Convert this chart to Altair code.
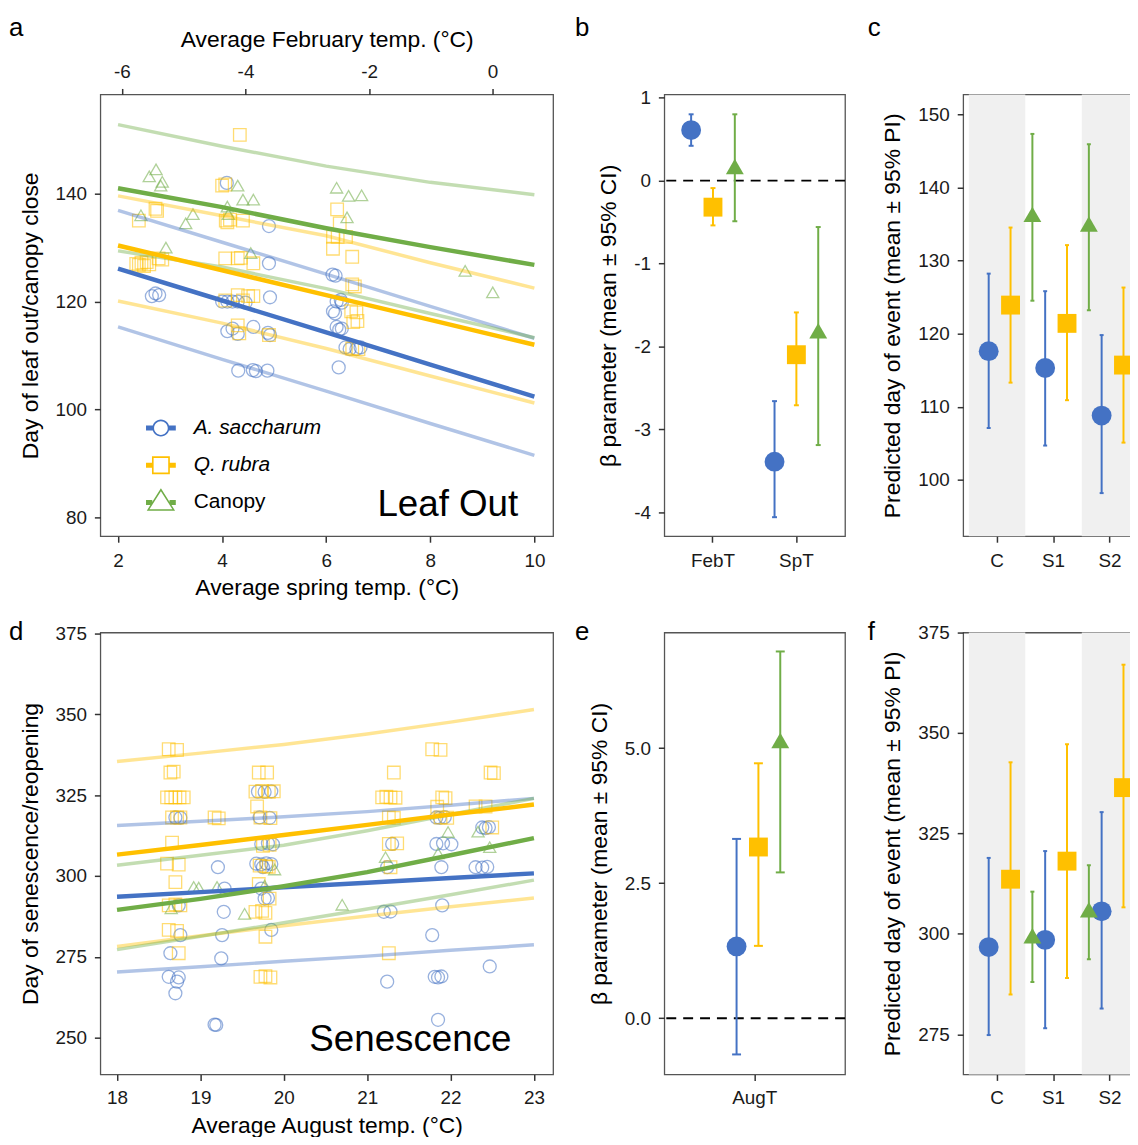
import altair as alt
import pandas as pd

FONT = "Liberation Sans"
SPECIES = ["A. saccharum", "Q. rubra", "Canopy"]
COLORS = ["#4472C4", "#FFC000", "#70AD47"]
POINT_SHAPES = ["circle", "square", "triangle-up"]
PANEL_TAGS = ["a", "b", "c", "d", "e", "f"]

# ---------------- panel a : leaf out vs spring temperature ----------------
A_LINE_X = [2, 4, 6, 8, 10]
A_SACC_MEAN = [126.1, 120.2, 114.3, 108.3, 102.4]
A_SACC_HI = [136.9, 131.0, 125.1, 119.1, 113.2]
A_SACC_LO = [115.3, 109.3, 103.4, 97.4, 91.5]
A_RUBRA_MEAN = [130.4, 125.8, 121.2, 116.6, 112.0]
A_RUBRA_HI = [139.6, 135.9, 132.2, 127.2, 122.5]
A_RUBRA_LO = [120.1, 116.0, 111.3, 106.2, 101.2]
A_CANOPY_MEAN = [141.0, 137.5, 133.6, 130.1, 126.8]
A_CANOPY_HI = [152.8, 148.8, 145.1, 142.1, 139.8]
A_CANOPY_LO = [129.4, 126.4, 122.4, 117.8, 113.3]

A_SACC_PX = [2.65, 2.72, 2.79, 4.09, 4.90, 4.90, 4.92, 4.00, 4.10, 4.20, 4.30, 4.45,
             4.10, 4.20, 4.30, 4.60, 4.88, 4.92, 4.31, 4.59, 4.65, 4.87, 6.12, 6.18,
             6.20, 6.28, 6.30, 6.13, 6.17, 6.20, 6.25, 6.30, 6.37, 6.45, 6.58, 6.66, 6.24]
A_SACC_PY = [121.0, 121.5, 121.2, 142.0, 134.0, 127.1, 120.8, 120.0, 120.0, 120.0, 120.0, 119.8,
             114.5, 115.0, 114.0, 115.3, 114.2, 113.8, 107.2, 107.3, 107.1, 107.2, 125.0, 124.8,
             120.0, 120.3, 119.8, 118.2, 117.8, 115.3, 114.8, 115.0, 111.5, 111.2, 111.2, 111.5, 107.8]
A_RUBRA_PX = [4.34, 4.06, 4.00, 2.72, 2.75, 2.40, 4.07, 4.15, 4.10, 4.40, 6.21, 6.26, 6.13, 6.22,
              6.38, 6.13, 6.50, 2.35, 2.40, 2.45, 2.50, 2.55, 2.60, 2.78, 2.85, 4.06, 4.30, 4.36,
              4.60, 6.50, 6.55, 6.48, 6.58, 6.52, 6.60, 4.06, 4.30, 4.40, 4.50, 4.60, 4.30, 4.33,
              4.90, 6.50, 6.62]
A_RUBRA_PY = [150.9, 141.7, 141.5, 137.2, 136.8, 135.0, 135.0, 135.2, 134.7, 135.0, 137.1, 134.5,
              132.0, 132.0, 132.0, 129.8, 128.3, 127.0, 126.8, 127.2, 126.6, 127.3, 126.9, 128.0,
              127.8, 128.0, 128.0, 128.1, 127.1, 123.2, 122.8, 118.2, 118.0, 116.2, 116.4, 120.2,
              121.2, 120.2, 121.0, 121.0, 115.6, 114.1, 113.8, 111.3, 111.2]
A_CANOPY_PX = [2.60, 2.73, 2.85, 2.82, 2.44, 3.44, 3.30, 2.92, 4.30, 4.10, 4.40, 4.60, 4.12,
               4.55, 6.20, 6.43, 6.68, 6.40, 8.67, 9.20]
A_CANOPY_PY = [143.2, 144.5, 142.2, 141.5, 136.0, 136.2, 134.5, 130.0, 141.5, 137.6, 138.9,
               138.9, 136.2, 129.0, 141.1, 139.6, 139.7, 135.6, 125.7, 121.7]

A_X_TICKS = [2, 4, 6, 8, 10]
A_Y_TICKS = [80, 100, 120, 140]
FEB_TICKS = [-6, -4, -2, 0]
A_LABEL = ["Leaf Out"]
A_LABEL_X = [9.69]
A_LABEL_Y = [80.3]

# ---------------- panel d : senescence vs August temperature ----------------
D_LINE_X = [18, 19, 20, 21, 22, 23]
D_SACC_MEAN = [293.6, 295.0, 296.5, 297.9, 299.4, 300.8]
D_SACC_HI = [315.6, 316.9, 318.3, 319.9, 321.9, 324.0]
D_SACC_LO = [270.3, 271.9, 273.6, 275.2, 277.0, 278.7]
D_RUBRA_MEAN = [306.6, 309.6, 312.7, 315.8, 319.0, 322.1]
D_RUBRA_HI = [335.4, 338.0, 340.7, 343.9, 347.6, 351.5]
D_RUBRA_LO = [278.2, 281.5, 284.6, 287.6, 290.5, 293.2]
D_CANOPY_MEAN = [289.5, 292.9, 296.8, 301.2, 306.4, 311.7]
D_CANOPY_HI = [303.3, 306.4, 309.5, 314.0, 319.0, 324.0]
D_CANOPY_LO = [277.2, 281.3, 285.5, 289.8, 294.2, 298.7]

D_RUBRA_PX = [18.62, 18.72, 18.64, 18.68, 18.60, 18.65, 18.70, 18.75, 18.80, 18.66, 18.72, 18.76,
              18.66, 18.60, 18.74, 18.70, 18.62, 18.70, 18.76, 18.62, 18.72, 18.74,
              19.17, 19.22,
              19.70, 19.80, 19.66, 19.74, 19.82, 19.88, 19.68, 19.72, 19.84, 19.75, 19.83, 19.71,
              19.79, 19.82, 19.70, 19.83, 19.66, 19.74, 19.78, 19.78, 19.72, 19.78, 19.84,
              21.32, 21.18, 21.23, 21.28, 21.34, 21.26, 21.32, 21.26, 21.36, 21.28, 21.26,
              21.78, 21.88, 21.84, 21.90, 21.94, 21.88, 21.96,
              22.48, 22.52, 22.30, 22.42, 22.50]
D_RUBRA_PY = [339.2, 339.0, 332.0, 332.3, 324.3, 324.3, 324.3, 324.3, 324.3, 318.1, 318.1, 318.1,
              310.3, 303.8, 303.5, 298.1, 290.9, 291.2, 290.9, 283.3, 283.0, 276.1,
              318.1, 317.8,
              332.0, 332.0, 326.1, 326.3, 326.0, 326.2, 321.5, 318.1, 317.9, 309.3, 309.6, 303.2,
              303.0, 302.8, 297.5, 293.0, 288.9, 289.2, 288.6, 281.2, 268.8, 269.0, 268.6,
              332.0, 324.3, 324.5, 324.3, 324.2, 318.1, 318.0, 309.9, 310.1, 302.7, 276.1,
              339.2, 339.0, 321.4, 324.3, 324.1, 318.1, 318.0,
              332.0, 331.8, 321.5, 321.5, 315.0]
D_SACC_PX = [18.70, 18.76, 18.74, 18.76, 18.64, 18.62, 18.74, 18.72, 18.70,
             19.21, 19.29, 19.28, 19.26, 19.25, 19.17, 19.19,
             19.69, 19.77, 19.85, 19.71, 19.83, 19.73, 19.81, 19.87, 19.67, 19.73, 19.79, 19.85,
             19.75, 19.73, 19.77, 19.81, 19.85,
             21.30, 21.24, 21.20, 21.28, 21.24,
             21.83, 21.87, 21.93, 21.83, 21.91, 22.01, 21.89, 21.90, 21.78, 21.81, 21.85, 21.89, 21.85,
             22.38, 22.42, 22.46, 22.30, 22.38, 22.44, 22.47]
D_SACC_PY = [318.1, 318.0, 290.9, 281.7, 276.1, 268.8, 268.6, 267.3, 263.7,
             302.7, 296.1, 288.9, 281.7, 274.5, 254.0, 253.9,
             326.1, 326.0, 326.2, 318.1, 318.0, 309.9, 310.1, 309.8, 303.8, 303.6, 303.9, 303.7,
             302.7, 296.1, 293.0, 293.2, 283.3,
             309.9, 302.7, 288.9, 289.0, 267.3,
             318.1, 318.0, 318.2, 309.9, 310.1, 309.8, 302.7, 290.9, 281.7, 268.8, 268.6, 268.9, 255.5,
             315.0, 314.8, 315.1, 302.7, 302.6, 302.8, 272.0]
D_CANOPY_PX = [18.65, 18.92, 18.98, 19.20, 19.53, 19.77, 19.89, 20.70, 21.22, 21.97, 21.85, 22.33, 22.47]
D_CANOPY_PY = [290.0, 296.6, 296.4, 296.6, 288.3, 297.0, 302.0, 291.1, 305.8, 313.6, 307.0, 313.7, 308.9]

D_X_TICKS = [18, 19, 20, 21, 22, 23]
D_Y_TICKS = [250, 275, 300, 325, 350, 375]
D_LABEL = ["Senescence"]
D_LABEL_X = [22.73]
D_LABEL_Y = [245.8]

# ---------------- panel b : beta parameters (leaf out) ----------------
B_PARAMS = ["FebT", "SpT"]
B_SACC_MEAN = [0.61, -3.39]
B_SACC_LO = [0.42, -4.06]
B_SACC_HI = [0.80, -2.66]
B_RUBRA_MEAN = [-0.32, -2.10]
B_RUBRA_LO = [-0.54, -2.71]
B_RUBRA_HI = [-0.09, -1.59]
B_CANOPY_MEAN = [0.17, -1.81]
B_CANOPY_LO = [-0.49, -3.19]
B_CANOPY_HI = [0.80, -0.56]
B_Y_TICKS = [-4, -3, -2, -1, 0, 1]

# ---------------- panel c : predicted day of leaf out ----------------
SITES = ["C", "S1", "S2"]
SHADED_SITES = ["C", "S2"]
C_SACC_MEAN = [117.6, 115.3, 108.8]
C_SACC_LO = [107.1, 104.7, 98.2]
C_SACC_HI = [128.2, 125.8, 119.8]
C_RUBRA_MEAN = [123.9, 121.4, 115.7]
C_RUBRA_LO = [113.3, 110.9, 105.1]
C_RUBRA_HI = [134.5, 132.1, 126.3]
C_CANOPY_MEAN = [136.3, 135.0, 130.9]
C_CANOPY_LO = [124.5, 123.2, 118.5]
C_CANOPY_HI = [147.3, 145.9, 142.6]
C_Y_TICKS = [100, 110, 120, 130, 140, 150]

# ---------------- panel e : beta parameters (senescence) ----------------
E_PARAMS = ["AugT"]
E_SACC_MEAN = [1.33]
E_SACC_LO = [-0.67]
E_SACC_HI = [3.32]
E_RUBRA_MEAN = [3.17]
E_RUBRA_LO = [1.34]
E_RUBRA_HI = [4.72]
E_CANOPY_MEAN = [5.14]
E_CANOPY_LO = [2.70]
E_CANOPY_HI = [6.79]
E_Y_TICKS = [0.0, 2.5, 5.0]

# ---------------- panel f : predicted day of senescence ----------------
F_SACC_MEAN = [296.7, 298.5, 305.6]
F_SACC_LO = [274.8, 276.5, 281.4]
F_SACC_HI = [318.9, 320.6, 330.3]
F_RUBRA_MEAN = [313.6, 318.1, 336.4]
F_RUBRA_LO = [284.9, 289.0, 306.6]
F_RUBRA_HI = [342.7, 347.2, 367.0]
F_CANOPY_MEAN = [299.5, 306.0, 331.5]
F_CANOPY_LO = [288.0, 293.7, 313.2]
F_CANOPY_HI = [310.5, 317.1, 345.8]
F_Y_TICKS = [275, 300, 325, 350, 375]

ZERO_LINE = [0]

# legend keys: line segment with a hollow marker (custom symbol paths)
LEGEND_PATHS = [
    "M-1,-0.17L-0.5,-0.17L-0.5,0.17L-1,0.17Z M0.5,-0.17L1,-0.17L1,0.17L0.5,0.17Z "
    "M0.57,0A0.57,0.57,0,1,1,-0.57,0A0.57,0.57,0,1,1,0.57,0Z "
    "M0.46,0A0.46,0.46,0,1,0,-0.46,0A0.46,0.46,0,1,0,0.46,0Z",
    "M-1,-0.17L-0.55,-0.17L-0.55,0.17L-1,0.17Z M0.55,-0.17L1,-0.17L1,0.17L0.55,0.17Z "
    "M-0.6,-0.6L0.6,-0.6L0.6,0.6L-0.6,0.6Z M-0.49,-0.49L-0.49,0.49L0.49,0.49L0.49,-0.49Z",
    "M-1,-0.17L-0.58,-0.17L-0.58,0.17L-1,0.17Z M0.58,-0.17L1,-0.17L1,0.17L0.58,0.17Z "
    "M0,-0.95L0.95,0.55L-0.95,0.55Z M0,-0.763L-0.769,0.45L0.769,0.45Z",
]


def lines_frame(xs, series):
    rows = []
    for sp, (mean, lo, hi) in zip(SPECIES, series):
        for kind, vals in (("mean", mean), ("lo", lo), ("hi", hi)):
            for x, y in zip(xs, vals):
                rows.append({"species": sp, "kind": kind, "x": x, "y": y})
    return pd.DataFrame(rows)


def points_frame(series):
    rows = []
    for sp, (px, py) in zip(SPECIES, series):
        rows += [{"species": sp, "x": x, "y": y} for x, y in zip(px, py)]
    return pd.DataFrame(rows)


def est_frame(cats, series):
    rows = []
    for sp, (mean, lo, hi) in zip(SPECIES, series):
        for c, m, l, h in zip(cats, mean, lo, hi):
            rows.append({"cat": c, "species": sp, "mean": m, "lo": l, "hi": h})
    return pd.DataFrame(rows)


COLOR = alt.Color("species:N", scale=alt.Scale(domain=SPECIES, range=COLORS), legend=None)


def tag_layer(letter, dx, dy):
    return alt.Chart(pd.DataFrame({"tag": [letter]})).mark_text(
        align="left", baseline="alphabetic", fontSize=26, font=FONT, color="#000000").encode(
        x=alt.value(dx), y=alt.value(dy), text="tag:N")


def scatter_panel(lines_df, pts_df, lab_df, xdom, ydom, xticks, yticks, xtitle, ytitle,
                  legend, xtitle_pad=7, xlabel_pad=9):
    x_axis = alt.Axis(values=xticks, title=xtitle, orient="bottom", titlePadding=xtitle_pad,
                      labelPadding=xlabel_pad, labelExpr="'' + datum.value")
    y_axis = alt.Axis(values=yticks, title=ytitle, orient="left", labelExpr="'' + datum.value")

    def X():
        return alt.X("x:Q", scale=alt.Scale(domain=xdom, nice=False, zero=False), axis=x_axis)

    def Y():
        return alt.Y("y:Q", scale=alt.Scale(domain=ydom, nice=False, zero=False), axis=y_axis)

    pts = alt.Chart(pts_df).mark_point(filled=False, opacity=0.55, strokeWidth=1.3).encode(
        x=X(), y=Y(), color=COLOR,
        shape=alt.Shape("species:N", scale=alt.Scale(domain=SPECIES, range=POINT_SHAPES), legend=None),
        size=alt.Size("species:N", scale=alt.Scale(domain=SPECIES, range=[170, 150, 330]), legend=None),
    )
    bands = alt.Chart(lines_df).transform_filter("datum.kind != 'mean'").mark_line(
        strokeWidth=3.5, opacity=0.42).encode(x=X(), y=Y(), color=COLOR, detail="kind:N")
    means = alt.Chart(lines_df).transform_filter("datum.kind == 'mean'").mark_line(
        strokeWidth=4.5).encode(x=X(), y=Y(), color=COLOR)
    txt = alt.Chart(lab_df).mark_text(align="right", baseline="alphabetic", fontSize=37,
                                      font=FONT, color="black").encode(
        x=X(), y=Y(), text="label:N")
    layers = [pts, bands, means, txt]
    if legend:
        leg = alt.Legend(title=None, orient="none", legendX=46, legendY=321, symbolSize=900,
                         symbolStrokeWidth=0, labelFontSize=21, labelFont=FONT,
                         labelColor="#000000", labelOffset=18, rowPadding=12.5, padding=0,
                         labelFontStyle=alt.ExprRef(expr="datum.label == 'Canopy' ? 'normal' : 'italic'"))
        leg_df = pd.DataFrame({"species": SPECIES, "x": [None] * 3, "y": [None] * 3})
        key = alt.Chart(leg_df).mark_point(filled=True, opacity=1, size=900, clip=True,
                                           strokeWidth=0).encode(
            x=X(), y=Y(),
            color=alt.Color("species:N", scale=alt.Scale(domain=SPECIES, range=COLORS), legend=leg),
            shape=alt.Shape("species:N", scale=alt.Scale(domain=SPECIES, range=LEGEND_PATHS), legend=leg),
        )
        layers.append(key)
    return alt.layer(*layers).resolve_scale(color="independent", shape="independent",
                                            size="independent")


def est_panel(df, cats, ydom, yticks, ytitle, x_pad, off_pad, cap, zero=False, shade=None,
              yexpr="'' + datum.value", xlabel_pad=9):
    x_axis = alt.Axis(title=None, labelAngle=0, orient="bottom", labelPadding=xlabel_pad)
    y_axis = alt.Axis(values=yticks, title=ytitle, orient="left", labelExpr=yexpr)

    def X():
        return alt.X("cat:N", scale=alt.Scale(domain=cats, paddingInner=0, paddingOuter=x_pad),
                     axis=x_axis)

    XO = alt.XOffset("species:N", scale=alt.Scale(domain=SPECIES, paddingInner=0, paddingOuter=off_pad))

    def Y(field):
        return alt.Y(f"{field}:Q", scale=alt.Scale(domain=ydom, nice=False, zero=False), axis=y_axis)

    layers = []
    if shade:
        layers.append(alt.Chart(pd.DataFrame({"cat": shade})).mark_rect(color="#F0F0F0").encode(x=X()))
    if zero:
        layers.append(alt.Chart(pd.DataFrame({"z": ZERO_LINE})).mark_rule(
            color="black", strokeWidth=2, strokeDash=[10, 7]).encode(y=Y("z")))
    layers.append(alt.Chart(df).mark_rule(strokeWidth=2).encode(
        x=X(), xOffset=XO, y=Y("lo"), y2="hi:Q", color=COLOR))
    for f in ("lo", "hi"):
        layers.append(alt.Chart(df).mark_tick(thickness=2, size=cap, opacity=1).encode(
            x=X(), xOffset=XO, y=Y(f), color=COLOR))
    layers.append(alt.Chart(df).mark_point(filled=True, opacity=1).encode(
        x=X(), xOffset=XO, y=Y("mean"), color=COLOR,
        shape=alt.Shape("species:N", scale=alt.Scale(domain=SPECIES, range=POINT_SHAPES), legend=None),
        size=alt.Size("species:N", scale=alt.Scale(domain=SPECIES, range=[400, 324, 729]), legend=None)))
    return layers


# ---- panel a
a_lines = lines_frame(A_LINE_X, [(A_SACC_MEAN, A_SACC_LO, A_SACC_HI),
                                 (A_RUBRA_MEAN, A_RUBRA_LO, A_RUBRA_HI),
                                 (A_CANOPY_MEAN, A_CANOPY_LO, A_CANOPY_HI)])
a_pts = points_frame([(A_SACC_PX, A_SACC_PY), (A_RUBRA_PX, A_RUBRA_PY), (A_CANOPY_PX, A_CANOPY_PY)])
a_lab = pd.DataFrame({"label": A_LABEL, "x": A_LABEL_X, "y": A_LABEL_Y})
a_inner = scatter_panel(a_lines, a_pts, a_lab, [1.66, 10.36], [76.5, 158.4], A_X_TICKS, A_Y_TICKS,
                        "Average spring temp. (°C)", "Day of leaf out/canopy close", True)
feb = alt.Chart(pd.DataFrame({"feb": FEB_TICKS})).mark_rule(opacity=0).encode(
    x=alt.X("feb:Q", scale=alt.Scale(domain=[-6.35, 0.98], nice=False, zero=False),
            axis=alt.Axis(orient="top", values=FEB_TICKS, title="Average February temp. (°C)",
                          labelExpr="'' + datum.value")))
panel_a = alt.layer(a_inner, feb, tag_layer(PANEL_TAGS[0], -92, -59)).resolve_scale(
    x="independent").properties(width=456, height=445)

# ---- panel b
b_df = est_frame(B_PARAMS, [(B_SACC_MEAN, B_SACC_LO, B_SACC_HI),
                            (B_RUBRA_MEAN, B_RUBRA_LO, B_RUBRA_HI),
                            (B_CANOPY_MEAN, B_CANOPY_LO, B_CANOPY_HI)])
panel_b = alt.layer(*est_panel(b_df, B_PARAMS, [-4.29, 1.04], B_Y_TICKS, "β parameter (mean ± 95% CI)",
                               0.0833, 0.409, 5, zero=True),
                    tag_layer(PANEL_TAGS[1], -90, -59)).properties(width=182, height=445)

# ---- panel c (continues past the right page edge, as in the original figure)
c_df = est_frame(SITES, [(C_SACC_MEAN, C_SACC_LO, C_SACC_HI),
                         (C_RUBRA_MEAN, C_RUBRA_LO, C_RUBRA_HI),
                         (C_CANOPY_MEAN, C_CANOPY_LO, C_CANOPY_HI)])
panel_c = alt.layer(*est_panel(c_df, SITES, [92.3, 152.7], C_Y_TICKS,
                               "Predicted day of event (mean ± 95% PI)",
                               0.1, 0.335, 4, shade=SHADED_SITES),
                    tag_layer(PANEL_TAGS[2], -96, -59)).properties(width=182, height=445)

# ---- panel d
d_lines = lines_frame(D_LINE_X, [(D_SACC_MEAN, D_SACC_LO, D_SACC_HI),
                                 (D_RUBRA_MEAN, D_RUBRA_LO, D_RUBRA_HI),
                                 (D_CANOPY_MEAN, D_CANOPY_LO, D_CANOPY_HI)])
d_pts = points_frame([(D_SACC_PX, D_SACC_PY), (D_RUBRA_PX, D_RUBRA_PY), (D_CANOPY_PX, D_CANOPY_PY)])
d_lab = pd.DataFrame({"label": D_LABEL, "x": D_LABEL_X, "y": D_LABEL_Y})
d_inner = scatter_panel(d_lines, d_pts, d_lab, [17.8, 23.23], [238.6, 375.3], D_X_TICKS, D_Y_TICKS,
                        "Average August temp. (°C)", "Day of senescence/reopening", False,
                        xtitle_pad=7, xlabel_pad=8)
panel_d = alt.layer(d_inner, tag_layer(PANEL_TAGS[3], -92, 7)).properties(width=456, height=445)

# ---- panel e
e_df = est_frame(E_PARAMS, [(E_SACC_MEAN, E_SACC_LO, E_SACC_HI),
                            (E_RUBRA_MEAN, E_RUBRA_LO, E_RUBRA_HI),
                            (E_CANOPY_MEAN, E_CANOPY_LO, E_CANOPY_HI)])
panel_e = alt.layer(*est_panel(e_df, E_PARAMS, [-1.04, 7.14], E_Y_TICKS, "β parameter (mean ± 95% CI)",
                               0.69, 0.0, 9, zero=True, yexpr="format(datum.value, '.1f')",
                               xlabel_pad=8),
                    tag_layer(PANEL_TAGS[4], -90, 7)).properties(width=182, height=445)

# ---- panel f
f_df = est_frame(SITES, [(F_SACC_MEAN, F_SACC_LO, F_SACC_HI),
                         (F_RUBRA_MEAN, F_RUBRA_LO, F_RUBRA_HI),
                         (F_CANOPY_MEAN, F_CANOPY_LO, F_CANOPY_HI)])
panel_f = alt.layer(*est_panel(f_df, SITES, [265.0, 375.0], F_Y_TICKS,
                               "Predicted day of event (mean ± 95% PI)",
                               0.1, 0.335, 4, shade=SHADED_SITES, xlabel_pad=8),
                    tag_layer(PANEL_TAGS[5], -96, 7)).properties(width=182, height=445)

# fixed drawing surface of 1130 x 1129 px (fits the 1138 x 1145 window with its 8 px margin);
# the grid origin (top-left of panel a's plot area) is placed at (93, 83) inside it.
chart = alt.concat(panel_a, panel_b, panel_c, panel_d, panel_e, panel_f, columns=3,
                   spacing={"row": 17, "column": 20}).properties(
    autosize=alt.AutoSizeParams(type="none"),
    padding={"left": 93, "top": 83, "right": 1037, "bottom": 1046}
).configure(font=FONT).configure_view(
    stroke="#555555", strokeWidth=1.3
).configure_axis(
    labelFont=FONT, titleFont=FONT, labelFontSize=19, titleFontSize=23, titleFontWeight="normal",
    labelColor="#1a1a1a", titleColor="#000000", tickColor="#333333", tickWidth=1.5, tickSize=6,
    domain=False, grid=False, labelFlush=False
).configure_axisLeft(labelPadding=8, titlePadding=13
).configure_axisBottom(labelPadding=9, titlePadding=7
).configure_axisTop(labelPadding=7, titlePadding=11)

chart.save("out.html", embed_options={"renderer": "svg", "actions": False})
